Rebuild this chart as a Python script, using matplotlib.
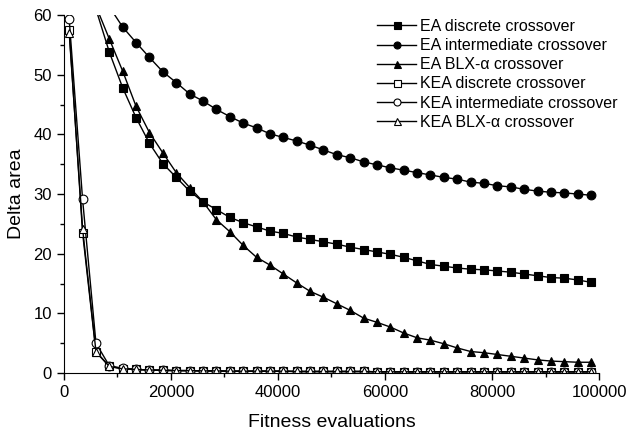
import matplotlib
matplotlib.use("Agg")
import matplotlib.pyplot as plt
from matplotlib.ticker import MultipleLocator

plt.rcParams['font.family'] = ['Liberation Sans', 'DejaVu Sans']

evals = [1000 + 2500 * k for k in range(40)]

ea_discrete = [95, 75, 61, 53.8, 47.8, 42.8, 38.5, 35.1, 32.8, 30.5, 28.7, 27.4, 26.1, 25.2,
               24.5, 23.8, 23.4, 22.8, 22.4, 22.0, 21.6, 21.1, 20.7, 20.3, 19.9, 19.4, 18.8,
               18.2, 17.9, 17.6, 17.4, 17.3, 17.1, 16.9, 16.6, 16.3, 16.0, 15.9, 15.6, 15.2]
ea_intermediate = [80, 72, 66, 61.4, 58.0, 55.4, 52.9, 50.5, 48.7, 46.8, 45.6, 44.2, 43.0, 41.9,
                   41.1, 40.1, 39.5, 38.9, 38.2, 37.4, 36.6, 36.1, 35.4, 34.9, 34.4, 34.0, 33.6,
                   33.2, 32.8, 32.5, 32.0, 31.8, 31.4, 31.2, 30.8, 30.5, 30.3, 30.2, 30.0, 29.8]
ea_blx = [95, 75, 61.5, 56.0, 50.6, 44.7, 40.3, 36.9, 33.6, 31.1, 28.7, 25.7, 23.7, 21.4,
          19.4, 18.1, 16.6, 15.1, 13.7, 12.7, 11.6, 10.5, 9.2, 8.5, 7.7, 6.7, 5.9, 5.5, 4.9,
          4.2, 3.6, 3.4, 3.1, 2.8, 2.5, 2.2, 2.0, 1.9, 1.8, 1.8]
kea_discrete = [57.5, 23.5, 3.5, 1.1, 0.7, 0.6, 0.5, 0.45, 0.4, 0.4, 0.35, 0.35, 0.3, 0.3,
                0.3, 0.3, 0.3, 0.25, 0.25, 0.25, 0.25, 0.25, 0.25, 0.2, 0.2, 0.2, 0.2, 0.2,
                0.2, 0.2, 0.2, 0.2, 0.2, 0.2, 0.2, 0.2, 0.2, 0.2, 0.2, 0.2]
kea_intermediate = [59.3, 29.1, 5.0, 1.2, 0.8, 0.6, 0.5, 0.45, 0.4, 0.4, 0.35, 0.35, 0.3, 0.3,
                    0.3, 0.3, 0.3, 0.25, 0.25, 0.25, 0.25, 0.25, 0.25, 0.2, 0.2, 0.2, 0.2, 0.2,
                    0.2, 0.2, 0.2, 0.2, 0.2, 0.2, 0.2, 0.2, 0.2, 0.2, 0.2, 0.2]
kea_blx = [57.0, 24.2, 3.6, 1.1, 0.7, 0.6, 0.5, 0.45, 0.4, 0.4, 0.35, 0.35, 0.3, 0.3,
           0.3, 0.3, 0.3, 0.25, 0.25, 0.25, 0.25, 0.25, 0.25, 0.2, 0.2, 0.2, 0.2, 0.2,
           0.2, 0.2, 0.2, 0.2, 0.2, 0.2, 0.2, 0.2, 0.2, 0.2, 0.2, 0.2]

labels = ["EA discrete crossover", "EA intermediate crossover", "EA BLX-\u03b1 crossover",
          "KEA discrete crossover", "KEA intermediate crossover", "KEA BLX-\u03b1 crossover"]

fig = plt.figure(figsize=(6.26, 4.33), dpi=100)
ax = fig.add_axes([0.102, 0.1386, 0.855, 0.8264])

series = [
    (ea_discrete, 's', 'black'),
    (ea_intermediate, 'o', 'black'),
    (ea_blx, '^', 'black'),
    (kea_discrete, 's', 'white'),
    (kea_intermediate, 'o', 'white'),
    (kea_blx, '^', 'white'),
]
for (vals, m, fc), lab in zip(series, labels):
    ax.plot(evals, vals, color='black', lw=1.0, marker=m, markersize=6.3,
            markerfacecolor=fc, markeredgecolor='black', markeredgewidth=0.8, label=lab)

ax.set_xlim(0, 100000)
ax.set_ylim(0, 60)
ax.xaxis.set_major_locator(MultipleLocator(20000))
ax.xaxis.set_minor_locator(MultipleLocator(10000))
ax.yaxis.set_major_locator(MultipleLocator(10))
ax.yaxis.set_minor_locator(MultipleLocator(5))
ax.spines['top'].set_visible(False)
ax.spines['right'].set_visible(False)
ax.tick_params(which='major', direction='out', length=5, width=1, labelsize=12)
ax.tick_params(which='minor', direction='out', length=3, width=1)
ax.set_xlabel("Fitness evaluations", fontsize=14, labelpad=10)
ax.set_ylabel("Delta area", fontsize=14, labelpad=6)

leg = ax.legend(loc='upper right', bbox_to_anchor=(617 / 626, 1 - 19 / 433),
                bbox_transform=fig.transFigure, frameon=False, fontsize=11.5,
                borderpad=0, borderaxespad=0,
                markerscale=0.8, handlelength=2.45, handletextpad=0.2, labelspacing=0.26)

fig.savefig("out.png", dpi=100)
